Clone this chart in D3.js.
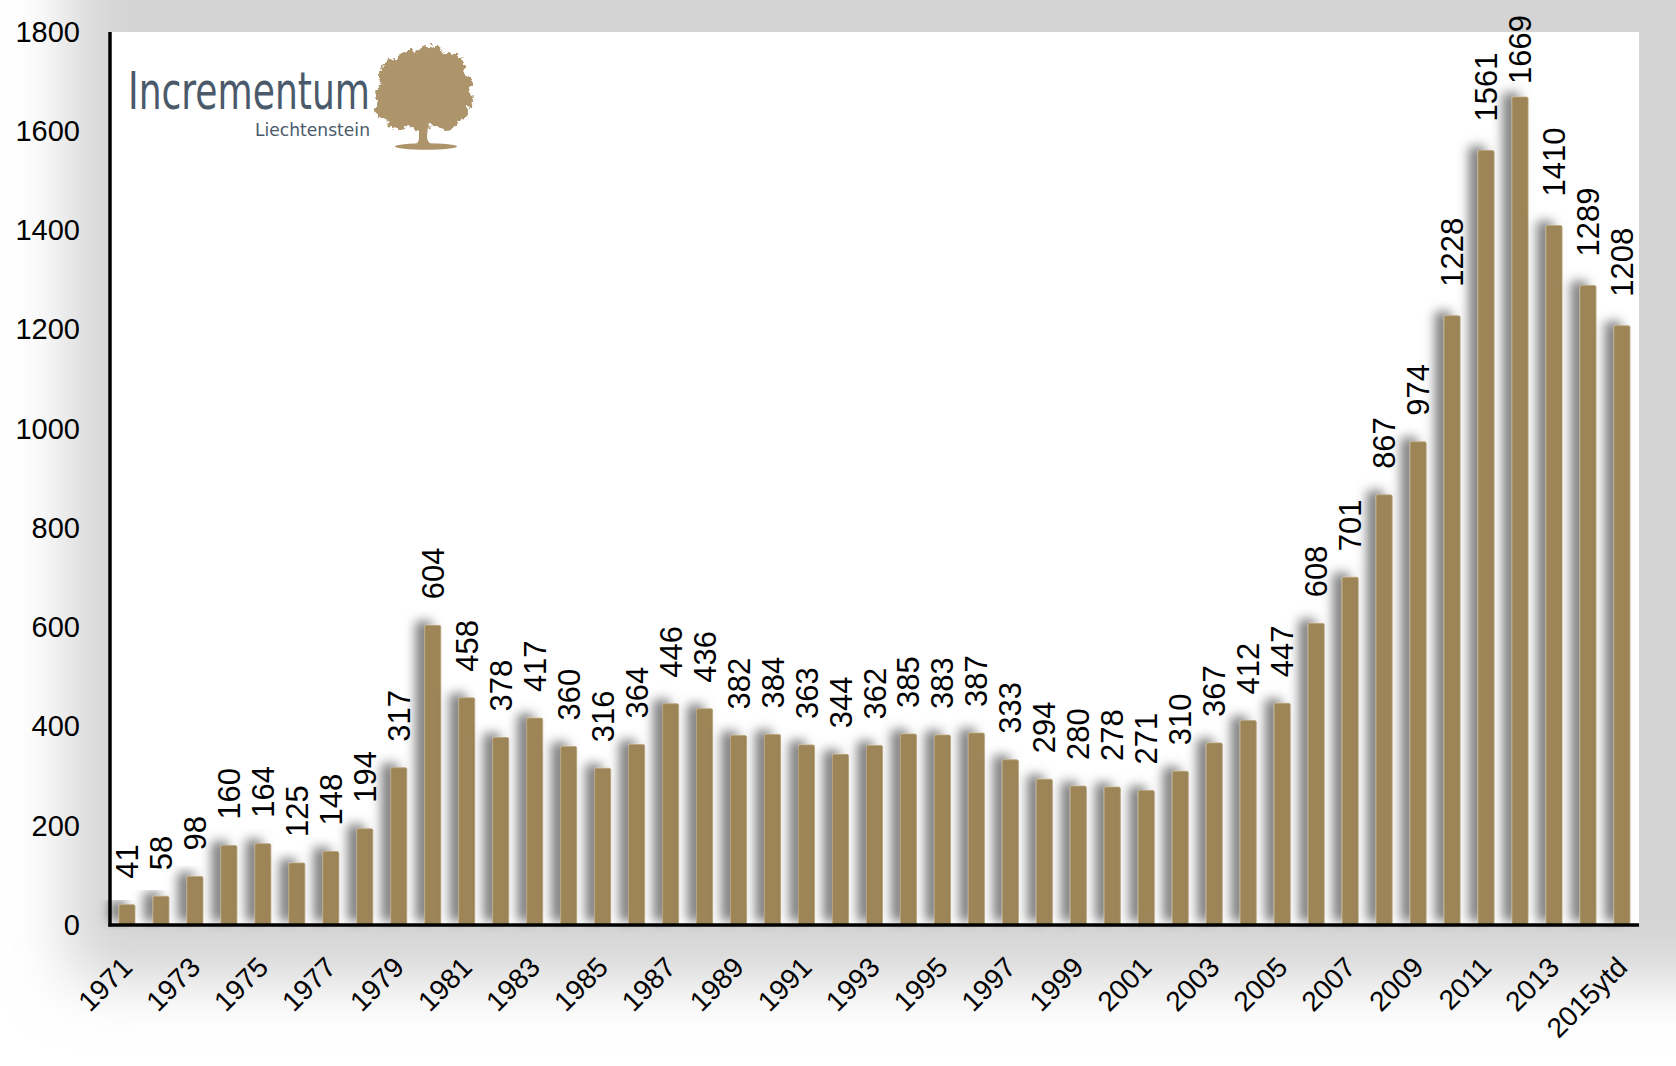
<!DOCTYPE html>
<html><head><meta charset="utf-8">
<script src="https://cdn.jsdelivr.net/npm/d3@7"></script>
<style>
body{margin:0;background:#fff;}
svg{display:block;font-family:"Liberation Sans",Arial,Helvetica,sans-serif;}
</style>
</head><body>
<svg id="chart" width="1676" height="1066"></svg>
<script>
// ---- data ----
const categories = ["1971","1972","1973","1974","1975","1976","1977","1978","1979","1980",
  "1981","1982","1983","1984","1985","1986","1987","1988","1989","1990",
  "1991","1992","1993","1994","1995","1996","1997","1998","1999","2000",
  "2001","2002","2003","2004","2005","2006","2007","2008","2009","2010",
  "2011","2012","2013","2014","2015ytd"];
const values = [41,58,98,160,164,125,148,194,317,604,
  458,378,417,360,316,364,446,436,382,384,
  363,344,362,385,383,387,333,294,280,278,
  271,310,367,412,447,608,701,867,974,1228,
  1561,1669,1410,1289,1208];
const yTicks = [0,200,400,600,800,1000,1200,1400,1600,1800];
const xTickLabels = categories.filter((d,i)=>i%2===0);

(function(){
// ---- layout ----
const W = 1676, H = 1066;
const pLeft = 110, pRight = 1639, pTop = 32, pBottom = 925;
const barColor = "#9e8558";

const svg = d3.select("#chart");
const defs = svg.append("defs");

const bgBlur = defs.append("filter").attr("id","bgblur")
  .attr("x","-20%").attr("y","-20%").attr("width","140%").attr("height","140%");
bgBlur.append("feGaussianBlur").attr("stdDeviation",30);

const barShadow = defs.append("filter").attr("id","barshadow")
  .attr("x","-200%").attr("y","-20%").attr("width","400%").attr("height","140%");
barShadow.append("feDropShadow").attr("dx",-9).attr("dy",-4).attr("stdDeviation",5.5)
  .attr("flood-color","#000").attr("flood-opacity",0.5);

const rough = defs.append("filter").attr("id","rough")
  .attr("x","-20%").attr("y","-20%").attr("width","140%").attr("height","140%");
rough.append("feTurbulence").attr("type","fractalNoise").attr("baseFrequency",0.22)
  .attr("numOctaves",2).attr("seed",3).attr("result","noise");
rough.append("feDisplacementMap").attr("in","SourceGraphic").attr("in2","noise")
  .attr("scale",9).attr("xChannelSelector","R").attr("yChannelSelector","G");

svg.append("rect").attr("width",W).attr("height",H).attr("fill","#fff");
svg.append("rect").attr("x",68).attr("y",-90).attr("width",1700).attr("height",1070)
  .attr("fill","#d4d4d4").attr("filter","url(#bgblur)");
svg.append("rect").attr("x",pLeft).attr("y",pTop).attr("width",pRight-pLeft).attr("height",pBottom-pTop)
  .attr("fill","#fff");

// ---- scales ----
const x = d3.scaleBand().domain(categories).range([pLeft,pRight]).paddingInner(0.53).paddingOuter(0.265);
const y = d3.scaleLinear().domain([0,1800]).range([pBottom,pTop]);

// ---- logo ----
const logo = svg.append("g");
const narrow = "'Liberation Sans Narrow','DejaVu Sans Condensed','Liberation Sans',sans-serif";
logo.append("text").attr("x",370).attr("y",109).attr("text-anchor","end")
  .attr("font-family",narrow)
  .attr("font-size",52).attr("fill","#4b5a6a").attr("textLength",242).attr("lengthAdjust","spacingAndGlyphs")
  .text("Incrementum");
logo.append("text").attr("x",370).attr("y",136).attr("text-anchor","end")
  .attr("font-family",narrow)
  .attr("font-size",17).attr("fill","#4b5a6a").attr("textLength",115).attr("lengthAdjust","spacingAndGlyphs")
  .text("Liechtenstein");
const tree = logo.append("g").attr("fill","#ad946a");
const canopy = tree.append("g").attr("filter","url(#rough)");
canopy.append("ellipse").attr("cx",424).attr("cy",93).attr("rx",40).attr("ry",33);
[[396,76,17],[410,63,13],[430,59,14],[450,68,15],[461,85,11],[464,100,9],[386,95,11],
 [384,110,9],[398,117,12],[420,121,10],[445,117,13],[459,111,9]].forEach(c=>{
  canopy.append("circle").attr("cx",c[0]).attr("cy",c[1]).attr("r",c[2]);
});
tree.append("path").attr("d","M419,122 L428,122 L427,138 Q428,144 436,146 L412,146 Q419,144 419,138 Z");
tree.append("ellipse").attr("cx",426).attr("cy",146.5).attr("rx",31).attr("ry",3.2);

// ---- bars ----
svg.append("g").selectAll("rect").data(values).join("rect")
  .attr("x",(d,i)=>x(categories[i]))
  .attr("y",d=>y(d))
  .attr("width",x.bandwidth())
  .attr("height",d=>y(0)-y(d))
  .attr("rx",1.5)
  .attr("fill",barColor)
  .attr("stroke","#b8a47c").attr("stroke-width",0.8)
  .attr("filter","url(#barshadow)");

// ---- value labels ----
const vl = svg.append("g").attr("font-size",31).attr("fill","#000");
values.forEach((v,i)=>{
  const cx = x(categories[i]) + x.bandwidth()/2;
  const s = String(v);
  const gap = s.length >= 4 ? 29 : 26;
  const t = vl.append("text").attr("text-anchor","start").text(s);
  const len = t.node().getComputedTextLength();
  let start = y(v) - gap;
  if (start - len < 15) start = 15 + len;
  t.attr("transform",`translate(${cx+11},${start}) rotate(-90)`);
});

// ---- axes ----
const yAxis = svg.append("g").attr("transform",`translate(${pLeft},0)`)
  .call(d3.axisLeft(y).tickValues(yTicks).tickSize(0).tickPadding(30).tickFormat(d3.format("d")));
yAxis.select(".domain").remove();
yAxis.selectAll("text").attr("font-size",29).attr("fill","#000")
  .attr("font-family","'Liberation Sans',Arial,sans-serif");

const xAxis = svg.append("g").attr("transform",`translate(0,${pBottom})`)
  .call(d3.axisBottom(x).tickValues(xTickLabels).tickSize(0).tickPadding(0));
xAxis.select(".domain").remove();
xAxis.selectAll("text")
  .attr("font-size",28).attr("fill","#000")
  .attr("font-family","'Liberation Sans',Arial,sans-serif")
  .attr("text-anchor","end").attr("dy",null).attr("y",null)
  .attr("transform",`translate(7,44) rotate(-45)`);

svg.append("line").attr("x1",pLeft).attr("x2",pLeft).attr("y1",pTop).attr("y2",pBottom+1.5)
  .attr("stroke","#000").attr("stroke-width",3.5);
svg.append("line").attr("x1",pLeft-1.5).attr("x2",pRight).attr("y1",pBottom).attr("y2",pBottom)
  .attr("stroke","#000").attr("stroke-width",3.5);
})();
</script>
</body></html>
